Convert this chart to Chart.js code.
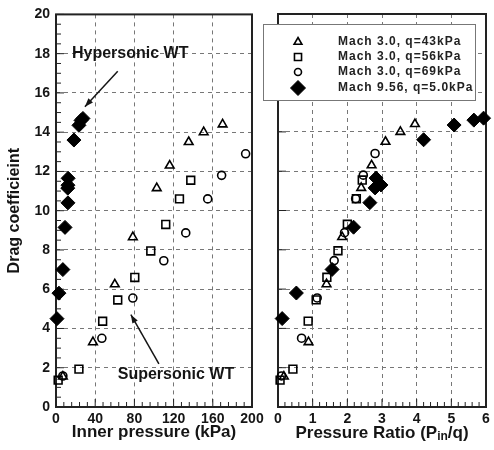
<!DOCTYPE html>
<html>
<head>
<meta charset="utf-8">
<script src="https://cdn.jsdelivr.net/npm/chart.js@4.4.0/dist/chart.umd.min.js"></script>
<style>
  body { margin: 0; background: #fff; }
  #wrap { position: relative; width: 494px; height: 450px; }
  canvas { position: absolute; top: 0; }
  #left { left: 0; }
  #right { left: 258px; }
</style>
</head>
<body>
<div id="wrap">
  <canvas id="left" width="270" height="450"></canvas>
  <canvas id="right" width="236" height="450"></canvas>
</div>
<script>
// Mach 3.0, q=43kPa
var pin43 = [7, 37.7, 60, 78.4, 102.8, 116, 135.4, 150.7, 170];
var cd43 = [1.55, 3.3, 6.25, 8.65, 11.15, 12.3, 13.5, 14.0, 14.4];
var ratio43 = [0.17, 0.88, 1.4, 1.85, 2.4, 2.7, 3.1, 3.53, 3.95];

// Mach 3.0, q=56kPa
var pin56 = [2.2, 23.4, 47.6, 63, 80.4, 96.7, 112, 126, 137.5];
var cd56 = [1.37, 1.93, 4.37, 5.45, 6.6, 7.95, 9.3, 10.6, 11.55];
var ratio56 = [0.06, 0.43, 0.87, 1.1, 1.41, 1.73, 2.0, 2.26, 2.43];

// Mach 3.0, q=69kPa
var pin69 = [7, 46.8, 78.4, 110, 132.4, 154.8, 169, 193.5];
var cd69 = [1.58, 3.5, 5.55, 7.45, 8.87, 10.6, 11.8, 12.9];
var ratio69 = [0.1, 0.68, 1.13, 1.62, 1.92, 2.24, 2.46, 2.8];

// Mach 9.56, q=5.0kPa
var pinHyp = [1, 3, 7, 9.2, 12.2, 12, 12.2, 12.4, 18.3, 23.4, 25.5, 27.5];
var cdHyp = [4.5, 5.8, 7.0, 9.15, 10.4, 11.15, 11.3, 11.65, 13.6, 14.35, 14.6, 14.7];
var ratioHyp = [0.12, 0.53, 1.56, 2.18, 2.65, 2.8, 2.97, 2.83, 4.2, 5.08, 5.65, 5.93];

var seriesNames = ['Mach 3.0, q=43kPa', 'Mach 3.0, q=56kPa', 'Mach 3.0, q=69kPa', 'Mach 9.56, q=5.0kPa'];

var FONT = '"Liberation Sans", Arial, sans-serif';
var INK = '#151515';

var markers = [
  { pointStyle: 'triangle', radius: 5, borderWidth: 1.6, borderColor: '#000', backgroundColor: 'rgba(0,0,0,0)' },
  { pointStyle: 'rect', radius: 5.5, borderWidth: 1.6, borderColor: '#000', backgroundColor: 'rgba(0,0,0,0)' },
  { pointStyle: 'circle', radius: 4, borderWidth: 1.6, borderColor: '#000', backgroundColor: 'rgba(0,0,0,0)' },
  { pointStyle: 'rectRot', radius: 7, borderWidth: 1, borderColor: '#000', backgroundColor: '#000' }
];

function pts(xs, ys) {
  return xs.map(function (x, i) { return { x: x, y: ys[i] }; });
}

function makeDatasets(xLists) {
  var yLists = [cd43, cd56, cd69, cdHyp];
  return xLists.map(function (xs, i) {
    var m = markers[i];
    return {
      label: seriesNames[i],
      data: pts(xs, yLists[i]),
      showLine: false,
      clip: false,
      order: i === 3 ? 0 : 1,
      pointStyle: m.pointStyle,
      pointRadius: m.radius,
      pointHoverRadius: m.radius,
      pointBorderWidth: m.borderWidth,
      pointBorderColor: m.borderColor,
      pointBackgroundColor: m.backgroundColor
    };
  });
}

// frame and inward tick marks
var frameTicks = {
  id: 'frameTicks',
  beforeDatasetsDraw: function (chart, args, opts) {
    var ctx = chart.ctx, a = chart.chartArea;
    var xs = chart.scales.x, ys = chart.scales.y;
    ctx.save();
    ctx.strokeStyle = '#222';
    ctx.lineWidth = 1;
    var n = Math.round((xs.max - xs.min) / opts.xMinor);
    for (var i = 0; i <= n; i++) {
      var px = xs.getPixelForValue(xs.min + i * opts.xMinor);
      var len = i % opts.xPer === 0 ? 8 : 5;
      ctx.beginPath(); ctx.moveTo(px, a.bottom); ctx.lineTo(px, a.bottom - len); ctx.stroke();
    }
    if (opts.yMinor) {
      var m = Math.round((ys.max - ys.min) / opts.yMinor);
      for (var j = 0; j <= m; j++) {
        var py = ys.getPixelForValue(ys.min + j * opts.yMinor);
        var l2 = j % opts.yPer === 0 ? 8 : 5;
        ctx.beginPath(); ctx.moveTo(a.left, py); ctx.lineTo(a.left + l2, py); ctx.stroke();
      }
    }
    ctx.lineWidth = 2;
    ctx.strokeRect(a.left, a.top, a.right - a.left, a.bottom - a.top);
    ctx.restore();
  }
};

function arrow(ctx, x1, y1, x2, y2) {
  var ang = Math.atan2(y2 - y1, x2 - x1);
  ctx.beginPath(); ctx.moveTo(x1, y1); ctx.lineTo(x2, y2); ctx.stroke();
  ctx.beginPath();
  ctx.moveTo(x2, y2);
  ctx.lineTo(x2 - 9 * Math.cos(ang - 0.35), y2 - 9 * Math.sin(ang - 0.35));
  ctx.lineTo(x2 - 9 * Math.cos(ang + 0.35), y2 - 9 * Math.sin(ang + 0.35));
  ctx.closePath(); ctx.fill();
}

var notes = {
  id: 'notes',
  afterDraw: function (chart) {
    var ctx = chart.ctx, xs = chart.scales.x, ys = chart.scales.y;
    ctx.save();
    ctx.fillStyle = INK; ctx.strokeStyle = INK; ctx.lineWidth = 1.5;
    ctx.font = 'bold 16px ' + FONT;
    ctx.textBaseline = 'middle';
    ctx.fillText('Hypersonic WT', xs.getPixelForValue(16.3), ys.getPixelForValue(18.0));
    arrow(ctx, xs.getPixelForValue(63), ys.getPixelForValue(17.1), xs.getPixelForValue(29.5), ys.getPixelForValue(15.3));
    ctx.fillText('Supersonic WT', xs.getPixelForValue(63), ys.getPixelForValue(1.63));
    arrow(ctx, xs.getPixelForValue(105), ys.getPixelForValue(2.2), xs.getPixelForValue(76.4), ys.getPixelForValue(4.7));
    ctx.restore();
  }
};

var legendBox = {
  id: 'legendBox',
  afterDraw: function (chart) {
    var ctx = chart.ctx, a = chart.chartArea;
    var left = a.left - 15, top = a.top + 10, w = 212, h = 76;
    ctx.save();
    ctx.fillStyle = '#fff';
    ctx.fillRect(left, top, w, h);
    ctx.strokeStyle = '#777'; ctx.lineWidth = 1;
    ctx.strokeRect(left + 0.5, top + 0.5, w, h);
    var rows = [18, 33, 48, 64];
    ctx.font = 'bold 12px ' + FONT;
    if ('letterSpacing' in ctx) ctx.letterSpacing = '1px';
    ctx.textBaseline = 'middle';
    seriesNames.forEach(function (name, i) {
      var m = markers[i];
      ctx.fillStyle = m.backgroundColor; ctx.strokeStyle = m.borderColor;
      ctx.lineWidth = m.borderWidth;
      Chart.helpers.drawPoint(ctx, { pointStyle: m.pointStyle, radius: i === 3 ? 7.5 : m.radius - 0.5, borderWidth: m.borderWidth, rotation: 0 }, left + 35, top + rows[i]);
      ctx.fillStyle = '#222';
      ctx.fillText(name, left + 75, top + rows[i]);
    });
    ctx.restore();
  }
};

var ratioTitle = {
  id: 'ratioTitle',
  afterDraw: function (chart) {
    var ctx = chart.ctx, a = chart.chartArea;
    var big = 'bold 17px ' + FONT, small = 'bold 12px ' + FONT;
    var parts = [['Pressure Ratio (P', big, 0], ['in', small, 4], ['/q)', big, 0]];
    ctx.save();
    ctx.fillStyle = INK; ctx.textBaseline = 'middle';
    var w = 0;
    parts.forEach(function (p) { ctx.font = p[1]; w += ctx.measureText(p[0]).width; });
    var x = (a.left + a.right) / 2 - w / 2, y = chart.height - 17;
    parts.forEach(function (p) {
      ctx.font = p[1];
      ctx.fillText(p[0], x, y + p[2]);
      x += ctx.measureText(p[0]).width;
    });
    ctx.restore();
  }
};

function tickFont() { return { family: FONT, size: 14, weight: 'bold' }; }
var gridStyle = { color: '#777', lineWidth: 1, drawTicks: false };
var dash = { display: false, dash: [4, 4] };

new Chart(document.getElementById('left').getContext('2d'), {
  type: 'scatter',
  data: { datasets: makeDatasets([pin43, pin56, pin69, pinHyp]) },
  options: {
    responsive: false,
    animation: false,
    events: [],
    layout: { padding: { top: 14, right: 18, left: 0, bottom: 0 } },
    plugins: { legend: { display: false }, tooltip: { enabled: false }, frameTicks: { xMinor: 8, xPer: 5, yMinor: 0.5, yPer: 4 } },
    scales: {
      x: {
        type: 'linear', min: 0, max: 200,
        ticks: { stepSize: 40, font: tickFont(), color: INK, padding: 4, maxRotation: 0 },
        grid: gridStyle, border: dash,
        title: { display: true, text: 'Inner pressure (kPa)', font: { family: FONT, size: 17, weight: 'bold' }, color: INK, padding: { top: 0, bottom: 7 } },
        afterFit: function (s) { s.height = 43; }
      },
      y: {
        type: 'linear', min: 0, max: 20,
        ticks: { stepSize: 2, font: tickFont(), color: INK, padding: 6 },
        grid: gridStyle, border: dash,
        title: { display: true, text: 'Drag coefficieint', font: { family: FONT, size: 16, weight: 'bold' }, color: INK, padding: { top: 5, bottom: 0 } },
        afterFit: function (s) { s.width = 56; }
      }
    }
  },
  plugins: [frameTicks, notes]
});

new Chart(document.getElementById('right').getContext('2d'), {
  type: 'scatter',
  data: { datasets: makeDatasets([ratio43, ratio56, ratio69, ratioHyp]) },
  options: {
    responsive: false,
    animation: false,
    events: [],
    layout: { padding: { top: 14, right: 4, left: 0, bottom: 0 } },
    plugins: { legend: { display: false }, tooltip: { enabled: false }, frameTicks: { xMinor: 0.2, xPer: 5, yMinor: 2, yPer: 1 } },
    scales: {
      x: {
        type: 'linear', min: 0, max: 6,
        ticks: { stepSize: 1, font: tickFont(), color: INK, padding: 4, maxRotation: 0 },
        grid: gridStyle, border: dash,
        afterFit: function (s) { s.height = 43; }
      },
      y: {
        type: 'linear', min: 0, max: 20,
        ticks: { stepSize: 2, display: false },
        grid: gridStyle, border: dash,
        afterFit: function (s) { s.width = 20; }
      }
    }
  },
  plugins: [frameTicks, ratioTitle, legendBox]
});
</script>
</body>
</html>
